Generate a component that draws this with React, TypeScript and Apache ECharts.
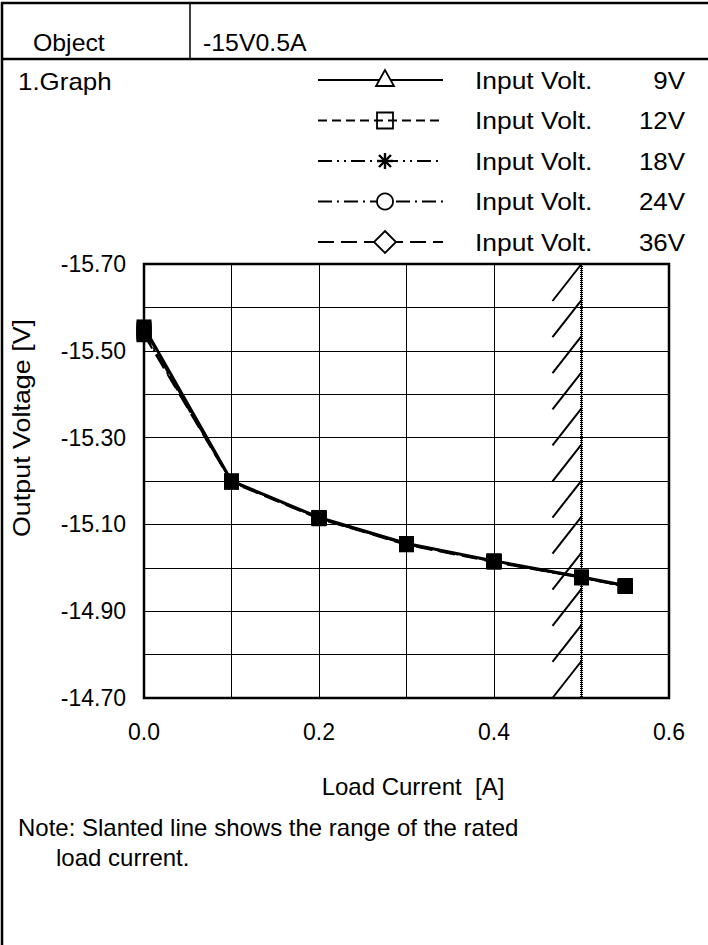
import React, { useEffect, useRef } from 'react';
import * as echarts from 'echarts';

// ---- data ----
const LOAD_CURRENT = [0, 0.1, 0.2, 0.3, 0.4, 0.5, 0.55];
const INPUT_VOLTS = ['9V', '12V', '18V', '24V', '36V'];
const V_9 = [-15.555, -15.2, -15.116, -15.056, -15.016, -14.979, -14.959];
const V_12 = [-15.55, -15.2, -15.115, -15.055, -15.015, -14.978, -14.958];
const V_18 = [-15.545, -15.199, -15.115, -15.055, -15.015, -14.978, -14.958];
const V_24 = [-15.54, -15.198, -15.114, -15.054, -15.014, -14.977, -14.957];
const V_36 = [-15.537, -15.197, -15.113, -15.053, -15.013, -14.977, -14.957];
const OUTPUT_VOLTAGE = [V_9, V_12, V_18, V_24, V_36];
const Y_MIN = -15.7;
const Y_MAX = -14.7;
const Y_STEP = 0.1;
const X_MIN = 0;
const X_MAX = 0.6;
const X_STEP = 0.1;
const RATED_CURRENT = 0.5;

// ---- styles ----
const FONT = '"Liberation Sans", Arial, Helvetica, sans-serif';
const DASHES: any[] = ['solid', [9, 5], [14, 5, 2, 5, 2, 5], [14, 5, 2, 5], [16, 7]];
const MARKERS = ['triangle', 'square', 'asterisk', 'circle', 'diamond'];

function txt(text: string, x: number, y: number, size: number, align = 'left', extra: any = {}) {
  return {
    type: 'text',
    x,
    y,
    silent: true,
    ...extra,
    style: { text, fontSize: size, fontFamily: FONT, fill: '#000', align, verticalAlign: 'middle' },
  };
}

function marker(kind: string, cx: number, cy: number): any[] {
  const st = { stroke: '#000', lineWidth: 1.8, fill: '#fff' };
  if (kind === 'triangle')
    return [{ type: 'polygon', shape: { points: [[cx, cy - 10], [cx - 9, cy + 6], [cx + 9, cy + 6]] }, style: st }];
  if (kind === 'square')
    return [{ type: 'rect', shape: { x: cx - 8, y: cy - 8, width: 16, height: 16 }, style: { ...st, fill: 'none' } }];
  if (kind === 'circle') return [{ type: 'circle', shape: { cx, cy, r: 8 }, style: st }];
  if (kind === 'diamond')
    return [{ type: 'polygon', shape: { points: [[cx, cy - 11], [cx + 11, cy], [cx, cy + 11], [cx - 11, cy]] }, style: st }];
  const a = 8;
  const ls = { stroke: '#000', lineWidth: 2.4 };
  return [
    { type: 'line', shape: { x1: cx - a, y1: cy, x2: cx + a, y2: cy }, style: ls },
    { type: 'line', shape: { x1: cx, y1: cy - a, x2: cx, y2: cy + a }, style: ls },
    { type: 'line', shape: { x1: cx - 6, y1: cy - 6, x2: cx + 6, y2: cy + 6 }, style: ls },
    { type: 'line', shape: { x1: cx - 6, y1: cy + 6, x2: cx + 6, y2: cy - 6 }, style: ls },
  ];
}

export default function App() {
  const ref = useRef<HTMLDivElement>(null);

  useEffect(() => {
    if (!ref.current) return;
    const chart = echarts.init(ref.current, undefined, { renderer: 'svg' });

    const graphics: any[] = [];
    // frame
    const frame = { stroke: '#000', lineWidth: 2.5 };
    graphics.push({ type: 'line', silent: true, shape: { x1: 1, y1: 3, x2: 708, y2: 3 }, style: frame });
    graphics.push({ type: 'line', silent: true, shape: { x1: 1, y1: 59, x2: 708, y2: 59 }, style: frame });
    graphics.push({ type: 'line', silent: true, shape: { x1: 2, y1: 2, x2: 2, y2: 945 }, style: frame });
    graphics.push({ type: 'line', silent: true, shape: { x1: 190, y1: 3, x2: 190, y2: 59 }, style: { stroke: '#000', lineWidth: 1.5 } });
    const wide = { scaleX: 1.08 };
    graphics.push(txt('Object', 33, 43, 23, 'left', wide));
    graphics.push(txt('-15V0.5A', 203, 43, 23, 'left', wide));
    graphics.push(txt('1.Graph', 18, 81, 24, 'left', wide));

    // legend
    INPUT_VOLTS.forEach((v, i) => {
      const cy = 80 + 40.5 * i;
      const dash = DASHES[i];
      graphics.push({
        type: 'line',
        silent: true,
        shape: { x1: 318, y1: cy, x2: 443, y2: cy },
        style: { stroke: '#000', lineWidth: 2, lineDash: dash === 'solid' ? null : dash },
      });
      marker(MARKERS[i], 385, cy).forEach((m) => graphics.push({ ...m, silent: true }));
      graphics.push(txt('Input Volt.', 475, cy, 24, 'left', { scaleX: 1.1 }));
      graphics.push(txt(v, 685, cy, 24, 'right', wide));
    });

    // y title
    graphics.push(txt('Output Voltage [V]', 22, 428, 24, 'center', { rotation: Math.PI / 2, scaleX: 1.12 }));
    // note
    graphics.push(txt('Note: Slanted line shows the range of the rated', 18, 827, 24));
    graphics.push(txt('load current.', 56, 857, 24));

    const series: any[] = [
      {
        type: 'custom',
        name: 'rated range',
        silent: true,
        clip: false,
        z: 1,
        data: [[RATED_CURRENT, Y_MIN]],
        renderItem: (params: any, api: any) => {
          const p0 = api.coord([api.value(0), Y_MIN]);
          const p1 = api.coord([api.value(0), Y_MAX]);
          const x = p0[0];
          const top = p0[1];
          const bottom = p1[1];
          const n = 12;
          const dy = 37;
          const dx = 29;
          const step = (bottom - top - dy) / (n - 1);
          const children: any[] = [];
          for (let k = 0; k < n; k++) {
            const y = top + k * step;
            children.push({
              type: 'line',
              shape: { x1: x, y1: y, x2: x - dx, y2: y + dy },
              style: { stroke: '#000', lineWidth: 2 },
            });
          }
          children.push({
            type: 'line',
            shape: { x1: x, y1: top, x2: x, y2: bottom },
            style: { stroke: '#000', lineWidth: 3, lineDash: [1, 1] },
          });
          return { type: 'group', children };
        },
      },
    ];

    INPUT_VOLTS.forEach((v, i) => {
      series.push({
        type: 'line',
        name: 'Input Volt. ' + v,
        data: LOAD_CURRENT.map((x, j) => [x, OUTPUT_VOLTAGE[i][j]]),
        symbol: 'rect',
        symbolSize: 15,
        clip: false,
        z: 3 + i,
        itemStyle: { color: '#000' },
        lineStyle: { color: '#000', width: i === 0 ? 3 : 2, type: DASHES[i] },
      });
    });

    chart.setOption({
      animation: false,
      backgroundColor: '#fff',
      textStyle: { fontFamily: FONT },
      grid: {
        left: 144,
        top: 264,
        width: 525,
        height: 434,
        show: true,
        borderColor: '#000',
        borderWidth: 2.5,
        backgroundColor: 'transparent',
      },
      xAxis: {
        type: 'value',
        min: X_MIN,
        max: X_MAX,
        interval: X_STEP,
        name: 'Load Current  [A]',
        nameLocation: 'middle',
        nameGap: 76,
        nameTextStyle: { fontSize: 24, color: '#000', fontFamily: FONT, padding: [0, 0, 0, 13] },
        axisLine: { show: false },
        axisTick: { show: false },
        axisLabel: {
          fontSize: 23,
          color: '#000',
          fontFamily: FONT,
          margin: 22,
          formatter: (val: number) => (Math.round((val - X_MIN) / X_STEP) % 2 === 0 ? val.toFixed(1) : ''),
        },
        splitLine: { show: true, lineStyle: { color: '#000', width: 1 } },
      },
      yAxis: {
        type: 'value',
        inverse: true,
        min: Y_MIN,
        max: Y_MAX,
        interval: Y_STEP,
        axisLine: { show: false },
        axisTick: { show: false },
        axisLabel: {
          fontSize: 23,
          color: '#000',
          fontFamily: FONT,
          margin: 18,
          formatter: (val: number) => (Math.round((val - Y_MIN) / Y_STEP) % 2 === 0 ? val.toFixed(2) : ''),
        },
        splitLine: { show: true, lineStyle: { color: '#000', width: 1 } },
      },
      graphic: graphics,
      series,
    });

    return () => chart.dispose();
  }, []);

  return (
    <div
      ref={ref}
      style={{ position: 'fixed', left: 0, top: 0, width: 708, height: 945, background: '#fff' }}
    />
  );
}
